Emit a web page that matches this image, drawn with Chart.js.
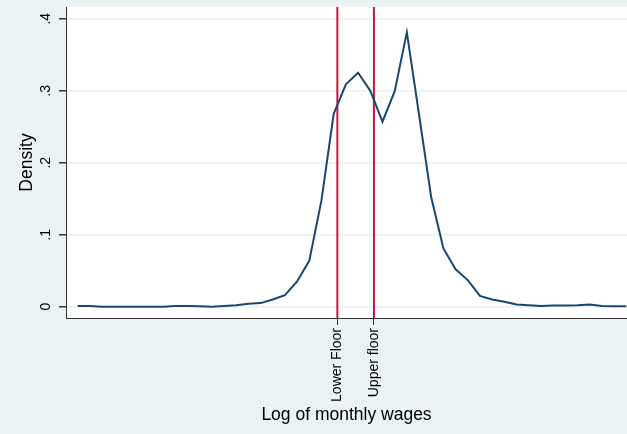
<!DOCTYPE html>
<html>
<head>
<meta charset="utf-8">
<script src="https://cdn.jsdelivr.net/npm/chart.js@4.4.1/dist/chart.umd.min.js"></script>
<style>
  html, body { margin: 0; padding: 0; background: #eaf2f3; }
  #wrap { width: 627px; height: 434px; }
</style>
</head>
<body>
<div id="wrap"><canvas id="densityChart" width="627" height="434"></canvas></div>
<script>
// bin index along log wages, density
const binIndex = [0, 1, 2, 3, 4, 5, 6, 7, 8, 9, 10, 11, 12, 13, 14, 15, 16, 17, 18, 19, 20, 21, 22,
  23, 24, 25, 26, 27, 28, 29, 30, 31, 32, 33, 34, 35, 36, 37, 38, 39, 40, 41, 42, 43, 44, 45];
const density = [0.001, 0.001, 0.000, 0.000, 0.000, 0.000, 0.000, 0.000, 0.001, 0.001, 0.0005, 0.000,
  0.001, 0.002, 0.004, 0.005, 0.010, 0.016, 0.035, 0.064, 0.148, 0.268, 0.309, 0.325, 0.300, 0.257,
  0.299, 0.381, 0.267, 0.152, 0.081, 0.052, 0.037, 0.015, 0.010, 0.007, 0.003, 0.002, 0.001, 0.0015,
  0.0015, 0.002, 0.003, 0.001, 0.0005, 0.0005];

// wage floors (same units as binIndex)
const floorValues = [21.3, 24.3];
const floorLabels = ["Lower Floor", "Upper floor"];

const yTicks = [0, 0.1, 0.2, 0.3, 0.4];
const yTickLabels = ["0", ".1", ".2", ".3", ".4"];

const xMin = -0.96, xMax = 45.06;
const yMin = -0.0157, yMax = 0.4163;

const font = "'Liberation Sans', Arial, sans-serif";

const bgPlugin = {
  id: "bg",
  beforeDraw(chart) {
    const { ctx, chartArea } = chart;
    ctx.save();
    ctx.fillStyle = "#eaf2f3";
    ctx.fillRect(0, 0, chart.width, chart.height);
    ctx.fillStyle = "#ffffff";
    ctx.fillRect(chartArea.left, chartArea.top, chartArea.right - chartArea.left, chartArea.bottom - chartArea.top);
    ctx.restore();
  },
};

// stata style y labels, turned on their side
const yLabelPlugin = {
  id: "ylabels",
  afterDraw(chart) {
    const { ctx } = chart;
    const y = chart.scales.y;
    ctx.save();
    ctx.fillStyle = "#000";
    ctx.font = "14px " + font;
    ctx.textAlign = "center";
    ctx.textBaseline = "middle";
    yTicks.forEach((v, i) => {
      ctx.save();
      ctx.translate(46, y.getPixelForValue(v));
      ctx.rotate(-Math.PI / 2);
      ctx.fillText(yTickLabels[i], 0, 0);
      ctx.restore();
    });
    ctx.restore();
  },
};

const floorSets = floorValues.map((f) => ({
  data: [{ x: f, y: yMin }, { x: f, y: yMax }],
  borderColor: "#c8163c",
  borderWidth: 2,
  pointRadius: 0,
}));

new Chart(document.getElementById("densityChart"), {
  type: "line",
  data: {
    datasets: [
      {
        data: binIndex.map((x, i) => ({ x: x, y: density[i] })),
        borderColor: "#1a476f",
        borderWidth: 2,
        pointRadius: 0,
        tension: 0,
      },
      ...floorSets,
    ],
  },
  options: {
    responsive: false,
    animation: false,
    layout: { padding: { top: 7, left: 0, right: 0, bottom: 0 } },
    plugins: { legend: { display: false }, tooltip: { enabled: false } },
    scales: {
      x: {
        type: "linear",
        min: xMin,
        max: xMax,
        afterBuildTicks: (scale) => {
          scale.ticks = floorValues.map((v) => ({ value: v }));
        },
        afterFit: (scale) => {
          scale.height = 116;
        },
        ticks: {
          autoSkip: false,
          minRotation: 90,
          maxRotation: 90,
          padding: 3,
          color: "#000",
          font: { family: font, size: 14 },
          callback: (v) => {
            const i = floorValues.indexOf(v);
            return i >= 0 ? floorLabels[i] : "";
          },
        },
        grid: { drawOnChartArea: false, drawTicks: true, tickLength: 7, tickColor: "#333" },
        border: { color: "#333", width: 1 },
        title: {
          display: true,
          text: "Log of monthly wages",
          color: "#000",
          font: { family: font, size: 17.5 },
          padding: { top: 0, bottom: 8.5 },
        },
      },
      y: {
        min: yMin,
        max: yMax,
        afterBuildTicks: (scale) => {
          scale.ticks = yTicks.map((v) => ({ value: v }));
        },
        afterFit: (scale) => {
          scale.width = 66;
        },
        ticks: { display: false },
        grid: { color: "#eaf2f3", lineWidth: 1.5, drawTicks: true, tickLength: 7, tickColor: "#333" },
        border: { color: "#333", width: 1 },
        title: {
          display: true,
          text: "Density",
          color: "#000",
          font: { family: font, size: 17.5 },
          padding: { top: 16.5, bottom: 0 },
        },
      },
    },
  },
  plugins: [bgPlugin, yLabelPlugin],
});
</script>
</body>
</html>
